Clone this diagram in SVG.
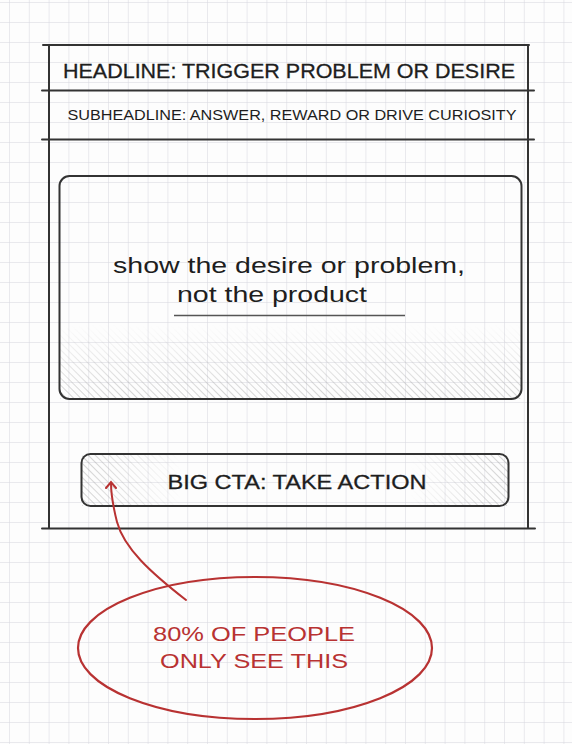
<svg xmlns="http://www.w3.org/2000/svg" width="572" height="744" viewBox="0 0 572 744">
<style>
.ink{fill:none;stroke:#333;stroke-width:2;stroke-linecap:round}
.t{font-family:"Liberation Sans","DejaVu Sans",sans-serif;fill:#1e1e1e}
.r{font-family:"Liberation Sans","DejaVu Sans",sans-serif;fill:#b83232}
</style>
<defs>
<pattern id="grid" width="19.8" height="20" patternUnits="userSpaceOnUse" x="9" y="2">
<path d="M0 0V20M0 0H19.8" fill="none" stroke="#d6d6de" stroke-width="1"/>
</pattern>
<pattern id="hatch" width="5" height="5" patternUnits="userSpaceOnUse" patternTransform="rotate(-45)">
<line x1="0" y1="0" x2="0" y2="5" stroke="#a8a8a8" stroke-width="1"/>
</pattern>
<linearGradient id="fadeV" x1="0" y1="0" x2="0" y2="1">
<stop offset="0" stop-color="#fff" stop-opacity="0"/>
<stop offset="1" stop-color="#fff" stop-opacity="1"/>
</linearGradient>
<linearGradient id="fadeL" x1="0" y1="0" x2="1" y2="0">
<stop offset="0" stop-color="#fff" stop-opacity="1"/>
<stop offset="1" stop-color="#fff" stop-opacity="0"/>
</linearGradient>
<linearGradient id="fadeR" x1="0" y1="0" x2="1" y2="0">
<stop offset="0" stop-color="#fff" stop-opacity="0"/>
<stop offset="1" stop-color="#fff" stop-opacity="1"/>
</linearGradient>
<mask id="mV"><rect x="60" y="325" width="461" height="74" fill="url(#fadeV)"/></mask>
<mask id="mL"><rect x="82" y="455" width="100" height="51" fill="url(#fadeL)"/></mask>
<mask id="mR"><rect x="410" y="455" width="98" height="51" fill="url(#fadeR)"/></mask>
<marker id="arr" markerWidth="12" markerHeight="12" refX="6" refY="6" orient="auto" markerUnits="userSpaceOnUse">
<path d="M1 1L7 6L1 11" fill="none" stroke="#b83232" stroke-width="2" stroke-linecap="round"/>
</marker>
</defs>
<rect width="572" height="744" fill="#fdfdfd"/>
<rect width="572" height="744" fill="url(#grid)"/>

<g id="page">
<path class="ink" d="M43 45H529M49 45V528M528 45V528M42 528.5H535"/>
</g>
<g id="headline">
<path class="ink" d="M42 90.5H534"/>
<text class="t" x="289" y="78" font-size="20" text-anchor="middle" textLength="452" lengthAdjust="spacingAndGlyphs" stroke="#1e1e1e" stroke-width="0.3">HEADLINE: TRIGGER PROBLEM OR DESIRE</text>
</g>
<g id="subheadline">
<path class="ink" d="M42 139.5H534"/>
<text class="t" x="292" y="120" font-size="14" text-anchor="middle" textLength="449" lengthAdjust="spacingAndGlyphs">SUBHEADLINE: ANSWER, REWARD OR DRIVE CURIOSITY</text>
</g>
<g id="image">
<rect x="60" y="325" width="461" height="74" fill="url(#hatch)" mask="url(#mV)"/>
<rect class="ink" x="59.5" y="176" width="462" height="223" rx="10" stroke-width="2.2"/>
<text class="t" x="289" y="273" font-size="22" text-anchor="middle" textLength="352" lengthAdjust="spacingAndGlyphs">show the desire or problem,</text>
<text class="t" x="272" y="302" font-size="22" text-anchor="middle" textLength="190" lengthAdjust="spacingAndGlyphs">not the product</text>
<path d="M174 315.5H405" stroke="#555" stroke-width="1.3" fill="none"/>
</g>
<g id="cta">
<rect x="82" y="455" width="100" height="51" fill="url(#hatch)" mask="url(#mL)"/>
<rect x="410" y="455" width="98" height="51" fill="url(#hatch)" mask="url(#mR)"/>
<rect class="ink" x="81.5" y="454" width="427" height="52" rx="9" stroke-width="2.2"/>
<text class="t" x="297" y="489" font-size="20" text-anchor="middle" textLength="259" lengthAdjust="spacingAndGlyphs" stroke="#1e1e1e" stroke-width="0.3">BIG CTA: TAKE ACTION</text>
</g>
<g id="connectors">
<path d="M186 600C150 572 124 548 117 522C113 506 111 495 111 483" fill="none" stroke="#b83232" stroke-width="2" stroke-linecap="round" marker-end="url(#arr)"/>
</g>
<g id="note">
<ellipse cx="255" cy="648" rx="177" ry="71" fill="none" stroke="#b83232" stroke-width="2.2"/>
<text class="r" x="254" y="641" font-size="20" text-anchor="middle" textLength="202" lengthAdjust="spacingAndGlyphs">80% OF PEOPLE</text>
<text class="r" x="254" y="668" font-size="20" text-anchor="middle" textLength="188" lengthAdjust="spacingAndGlyphs">ONLY SEE THIS</text>
</g>
</svg>
